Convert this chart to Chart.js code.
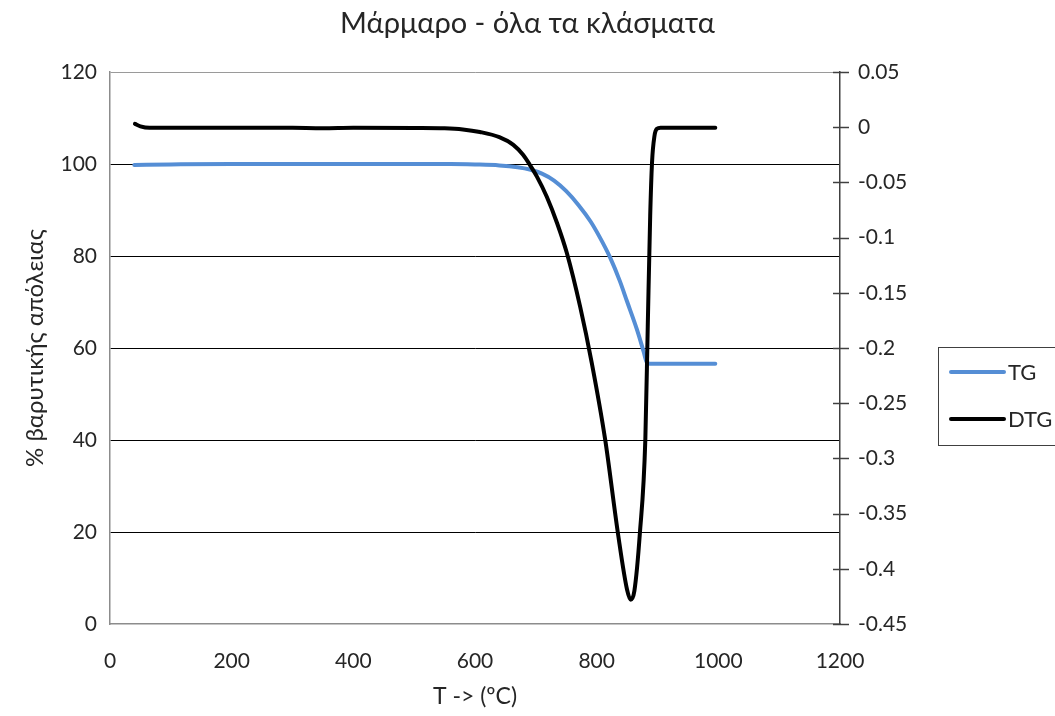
<!DOCTYPE html>
<html>
<head>
<meta charset="utf-8">
<title>Μάρμαρο - όλα τα κλάσματα</title>
<script src="https://cdn.jsdelivr.net/npm/chart.js@4.4.1/dist/chart.umd.min.js"></script>
<style>
    html, body { margin: 0; padding: 0; background: #ffffff; }
</style>
</head>
<body>
<canvas id="marbleChart" width="1055" height="716"></canvas>
<script>
// Θερμοκρασίες (°C) και % βάρους για την καμπύλη TG
var tgTemp = [40, 100, 200, 300, 400, 500, 560, 600, 640, 670, 690, 710, 730, 750, 770, 790, 805, 822, 838, 850, 866, 877, 882, 887, 950, 995];
var tgValues = [99.8, 99.9, 100, 100, 100, 100, 100, 99.9, 99.7, 99.3, 98.8, 97.9, 96.4, 94.1, 91.1, 87.5, 84.1, 79.7, 74.6, 70.1, 64.1, 59.3, 57.0, 56.6, 56.6, 56.6];

// Παράγωγος (DTG) στον δεξιό άξονα
var dtgTemp = [41, 50, 65, 100, 200, 300, 350, 400, 500, 550, 580, 608, 640, 663, 679, 690, 702, 718, 735, 751, 773, 792, 814, 835, 850, 856, 862, 871, 880, 884, 888, 891, 895, 899, 905, 950, 995];
var dtgValues = [0.003, 0.0008, -0.0006, -0.0005, -0.0005, -0.0006, -0.0009, -0.0005, -0.0007, -0.001, -0.002, -0.0043, -0.009, -0.016, -0.025, -0.034, -0.045, -0.063, -0.087, -0.114, -0.163, -0.2136, -0.283, -0.368, -0.419, -0.428, -0.42, -0.368, -0.283, -0.18, -0.08, -0.032, -0.008, -0.0015, -0.0005, -0.0005, -0.0005];

// Τιμές αξόνων
var xTicks = [0, 200, 400, 600, 800, 1000, 1200];
var leftTicks = [0, 20, 40, 60, 80, 100, 120];
var rightTicks = [-0.45, -0.4, -0.35, -0.3, -0.25, -0.2, -0.15, -0.1, -0.05, 0, 0.05];

var seriesLabels = ['TG', 'DTG'];
var seriesColors = ['#558ed5', '#000000'];

var FONT = "Lato, 'Open Sans', sans-serif";
var TEXT = '#262626';

function toPoints(xs, ys) {
    return xs.map(function (x, i) { return { x: x, y: ys[i] }; });
}

function fixTicks(values) {
    return function (scale) {
        scale.ticks = values.map(function (v) { return { value: v }; });
    };
}

function plainNumber(v) {
    return String(Number(Number(v).toFixed(2)));
}

// Τίτλος, σταυρωτές υποδιαιρέσεις δεξιού άξονα και υπόμνημα
var extrasPlugin = {
    id: 'extras',
    afterDraw: function (chart) {
        var ctx = chart.ctx;
        var area = chart.chartArea;
        ctx.save();

        ctx.fillStyle = TEXT;
        ctx.font = '29px ' + FONT;
        ctx.textAlign = 'center';
        ctx.textBaseline = 'alphabetic';
        ctx.fillText('Μάρμαρο - όλα τα κλάσματα', chart.width / 2, 33);

        var y1 = chart.scales.y1;
        ctx.strokeStyle = '#404040';
        ctx.lineWidth = 1.5;
        y1.ticks.forEach(function (t) {
            var py = Math.round(y1.getPixelForValue(t.value)) + 0.5;
            ctx.beginPath();
            ctx.moveTo(area.right - 7, py);
            ctx.lineTo(area.right + 9, py);
            ctx.stroke();
        });

        // υπόμνημα
        ctx.strokeStyle = '#404040';
        ctx.lineWidth = 1;
        ctx.strokeRect(938.5, 347.5, 130, 98);
        ctx.font = '22px ' + FONT;
        ctx.textAlign = 'left';
        ctx.textBaseline = 'middle';
        chart.data.datasets.forEach(function (ds, i) {
            var ly = 372 + i * 47;
            ctx.strokeStyle = ds.borderColor;
            ctx.lineWidth = 4;
            ctx.lineCap = 'round';
            ctx.beginPath();
            ctx.moveTo(951, ly);
            ctx.lineTo(1004, ly);
            ctx.stroke();
            ctx.fillStyle = TEXT;
            ctx.fillText(ds.label, 1008, ly + 1);
        });
        ctx.restore();
    }
};

var ctx = document.getElementById('marbleChart').getContext('2d');
var chart = new Chart(ctx, {
    type: 'line',
    data: {
        datasets: [{
            label: seriesLabels[0],
            data: toPoints(tgTemp, tgValues),
            yAxisID: 'y',
            borderColor: seriesColors[0],
            borderWidth: 4,
            cubicInterpolationMode: 'monotone',
            borderCapStyle: 'round',
            borderJoinStyle: 'round',
            pointRadius: 0,
            order: 1
        }, {
            label: seriesLabels[1],
            data: toPoints(dtgTemp, dtgValues),
            yAxisID: 'y1',
            borderColor: seriesColors[1],
            borderWidth: 4,
            cubicInterpolationMode: 'monotone',
            borderCapStyle: 'round',
            borderJoinStyle: 'round',
            pointRadius: 0,
            order: 0
        }]
    },
    options: {
        responsive: false,
        animation: false,
        events: [],
        layout: { padding: { top: 72, left: 0, right: 0, bottom: 0 } },
        plugins: {
            legend: { display: false },
            title: { display: false },
            tooltip: { enabled: false }
        },
        scales: {
            x: {
                type: 'linear',
                min: 0,
                max: 1200,
                afterBuildTicks: fixTicks(xTicks),
                afterFit: function (s) { s.height = 92; },
                grid: { display: false, drawTicks: false },
                border: { display: true, color: '#8c8c8c', width: 1.5 },
                ticks: { color: TEXT, font: { family: FONT, size: 21 }, padding: 25, maxRotation: 0, callback: plainNumber },
                title: {
                    display: true,
                    text: 'T -> (ºC)',
                    color: TEXT,
                    font: { family: FONT, size: 23 },
                    padding: { top: 0, bottom: 6 }
                }
            },
            y: {
                position: 'left',
                min: 0,
                max: 120,
                afterBuildTicks: fixTicks(leftTicks),
                afterFit: function (s) { s.width = 110; },
                grid: {
                    drawTicks: false,
                    lineWidth: 1,
                    color: function (c) {
                        if (c.tick.value === 120) return '#9a9a9a';
                        if (c.tick.value === 0) return 'rgba(0,0,0,0)';
                        return '#000000';
                    }
                },
                border: { display: true, color: '#8c8c8c', width: 1.5 },
                ticks: { color: TEXT, font: { family: FONT, size: 21 }, padding: 13, callback: plainNumber },
                title: {
                    display: true,
                    text: '% βαρυτικής απόλειας',
                    color: TEXT,
                    font: { family: FONT, size: 24 },
                    padding: { top: 21, bottom: 0 }
                }
            },
            y1: {
                position: 'right',
                min: -0.45,
                max: 0.05,
                afterBuildTicks: fixTicks(rightTicks),
                afterFit: function (s) { s.width = 215; },
                grid: { drawOnChartArea: false, drawTicks: false },
                border: { display: true, color: '#404040', width: 1.5 },
                ticks: { color: TEXT, font: { family: FONT, size: 21 }, padding: 18, callback: plainNumber }
            }
        }
    },
    plugins: [extrasPlugin]
});
</script>
</body>
</html>
